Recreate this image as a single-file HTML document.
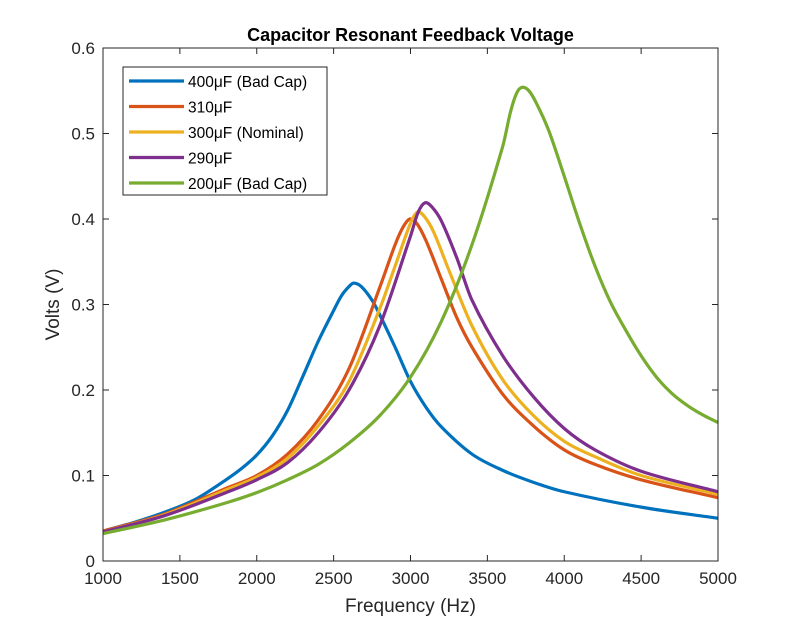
<!DOCTYPE html>
<html><head><meta charset="utf-8"><style>
body{margin:0;background:#fff;}
svg{display:block;font-family:"Liberation Sans",Arial,sans-serif;}
</style></head><body>
<svg id="chart" width="793" height="630" viewBox="0 0 793 630"></svg>
<script>
const xTicks=[1000,1500,2000,2500,3000,3500,4000,4500,5000];
const yTicks=[0,0.1,0.2,0.3,0.4,0.5,0.6];
const yTickLabels=["0","0.1","0.2","0.3","0.4","0.5","0.6"];
const seriesNames=["400\u03bcF (Bad Cap)","310\u03bcF","300\u03bcF (Nominal)","290\u03bcF","200\u03bcF (Bad Cap)"];
const seriesColors=["#0072BD","#D95319","#EDB120","#7E2F8E","#77AC30"];
const f400=[1000,1200,1400,1600,1800,1900,2000,2100,2200,2300,2400,2500,2550,2600,2630,2680,2750,2800,2900,3000,3100,3200,3400,3600,3800,4000,4500,5000];
const v400=[0.035,0.045,0.057,0.072,0.095,0.108,0.124,0.146,0.176,0.216,0.257,0.293,0.31,0.321,0.325,0.321,0.305,0.288,0.25,0.21,0.18,0.157,0.125,0.106,0.092,0.081,0.063,0.05];
const f310=[1000,1400,1800,2000,2200,2400,2600,2800,2900,2950,2995,3040,3100,3200,3300,3400,3600,3800,4000,4200,4500,5000];
const v310=[0.035,0.055,0.085,0.10,0.125,0.165,0.225,0.32,0.37,0.39,0.40,0.395,0.375,0.33,0.285,0.25,0.195,0.158,0.13,0.113,0.095,0.074];
const f300=[1000,1400,1800,2000,2200,2400,2600,2800,2900,3000,3045,3090,3150,3250,3400,3600,3800,4000,4200,4500,5000];
const v300=[0.034,0.054,0.083,0.098,0.12,0.158,0.21,0.295,0.345,0.395,0.408,0.403,0.385,0.34,0.275,0.212,0.17,0.14,0.122,0.10,0.078];
const f290=[1000,1400,1800,2000,2200,2400,2600,2800,3000,3050,3095,3140,3200,3300,3400,3600,3800,4000,4200,4500,5000];
const v290=[0.034,0.053,0.08,0.095,0.115,0.15,0.2,0.275,0.38,0.408,0.419,0.414,0.398,0.355,0.305,0.24,0.192,0.155,0.13,0.105,0.081];
const f200=[1000,1400,1800,2000,2200,2400,2600,2800,3000,3200,3400,3600,3650,3690,3725,3770,3820,3900,4000,4100,4200,4300,4400,4500,4600,4700,4800,4900,5000];
const v200=[0.032,0.048,0.068,0.08,0.095,0.113,0.138,0.17,0.215,0.28,0.37,0.485,0.525,0.547,0.554,0.55,0.535,0.503,0.45,0.395,0.345,0.303,0.27,0.24,0.215,0.196,0.182,0.171,0.162];
const seriesF=[f400,f310,f300,f290,f200];
const seriesV=[v400,v310,v300,v290,v200];

const L=103,R=718,T=48,B=561;
const xs=f=>L+(f-1000)/4000*(R-L);
const ys=v=>B-v/0.6*(B-T);
const svg=document.getElementById('chart');
const NS='http://www.w3.org/2000/svg';
function mk(tag,attrs,parent){const e=document.createElementNS(NS,tag);for(const k in attrs)e.setAttribute(k,attrs[k]);(parent||svg).appendChild(e);return e;}

for(let s=0;s<5;s++){
  const P=seriesF[s].map((f,i)=>[xs(f),ys(seriesV[s][i])]);
  const n=P.length;
  const m=P.map((p,i)=>{
    const a=P[Math.max(0,i-1)],b=P[Math.min(n-1,i+1)];
    return (b[1]-a[1])/(b[0]-a[0]);
  });
  let d='M'+P[0][0].toFixed(2)+','+P[0][1].toFixed(2);
  for(let i=0;i<n-1;i++){
    const p1=P[i],p2=P[i+1],dx=(p2[0]-p1[0])/3;
    d+=` C${(p1[0]+dx).toFixed(2)},${(p1[1]+m[i]*dx).toFixed(2)} ${(p2[0]-dx).toFixed(2)},${(p2[1]-m[i+1]*dx).toFixed(2)} ${p2[0].toFixed(2)},${p2[1].toFixed(2)}`;
  }
  const path=mk('path',{d:d,fill:'none',stroke:seriesColors[s],'stroke-width':3.2,'stroke-linejoin':'round'});
  
  
}
const box=mk('rect',{x:L,y:T,width:R-L,height:B-T,fill:'none',stroke:'#262626','stroke-width':1});


xTicks.forEach(t=>{
  const x=xs(t);
  mk('line',{x1:x,x2:x,y1:B,y2:B-6,stroke:'#262626'});
  mk('line',{x1:x,x2:x,y1:T,y2:T+6,stroke:'#262626'});
  const tx=mk('text',{x:x,y:B+23,'text-anchor':'middle','font-size':17,fill:'#262626'});
  tx.textContent=t;
  
  
});
yTicks.forEach((t,i)=>{
  const y=ys(t);
  mk('line',{x1:L,x2:L+6,y1:y,y2:y,stroke:'#262626'});
  mk('line',{x1:R,x2:R-6,y1:y,y2:y,stroke:'#262626'});
  const tx=mk('text',{x:L-8,y:y+6,'text-anchor':'end','font-size':17,fill:'#262626'});
  tx.textContent=yTickLabels[i];
  
  
});
const title=mk('text',{x:(L+R)/2,y:41,'text-anchor':'middle','font-size':18,'font-weight':'bold',fill:'#000'});
title.textContent='Capacitor Resonant Feedback Voltage';


const xl=mk('text',{x:(L+R)/2,y:612,'text-anchor':'middle','font-size':19,fill:'#262626'});
xl.textContent='Frequency (Hz)';


const yl=mk('text',{x:0,y:0,'text-anchor':'middle','font-size':19,fill:'#262626',transform:`translate(59,${(T+B)/2}) rotate(-90)`});
yl.textContent='Volts (V)';


const lg=mk('g',{});


mk('rect',{x:123,y:67,width:204,height:128,fill:'#fff',stroke:'#262626','stroke-width':1},lg);
for(let s=0;s<5;s++){
  const y=81+s*25.5;
  const ln=mk('line',{x1:129,x2:184,y1:y,y2:y,stroke:seriesColors[s],'stroke-width':3.2},lg);
  
  
  const tx=mk('text',{x:188,y:y+6,'font-size':15.5,fill:'#000'},lg);
  tx.textContent=seriesNames[s];
  
  
}
</script>
</body></html>
